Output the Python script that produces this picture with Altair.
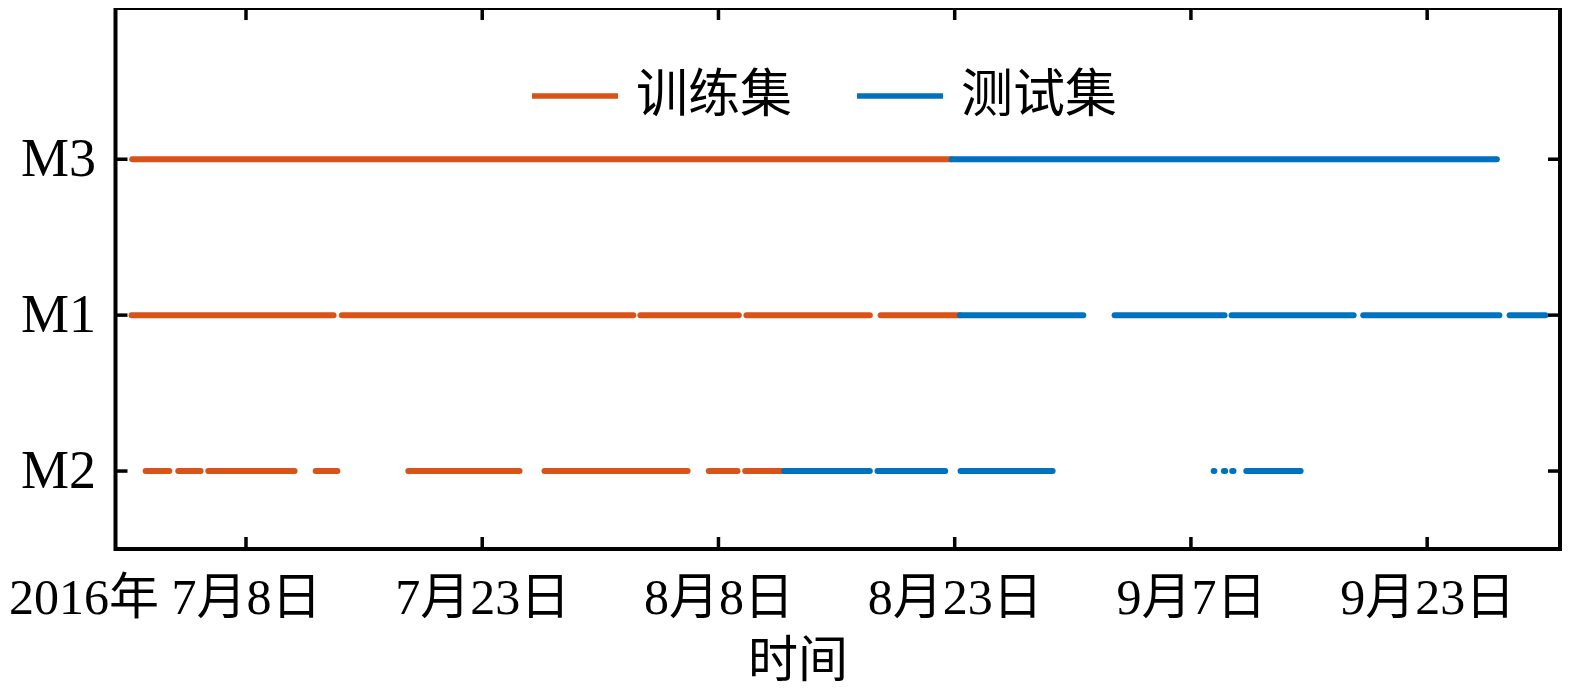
import altair as alt
import pandas as pd

# ---- data ----
tick_times = ["2016-07-08T00:00", "2016-07-23T09:36", "2016-08-07T19:12",
              "2016-08-23T04:48", "2016-09-07T14:24", "2016-09-23T00:00"]
tick_labels = ["2016年 7月8日", "7月23日", "8月8日", "8月23日", "9月7日", "9月23日"]
x_domain = ["2016-06-29T11:50", "2016-10-01T15:50"]

levels = ["M2", "M1", "M3"]          # bottom -> top
set_names = ["训练集", "测试集"]
set_colors = ["#D95319", "#0072BD"]

M3_train = [["2016-06-30T14:00", "2016-08-23T00:00"]]
M3_test = [["2016-08-23T00:00", "2016-09-27T13:00"]]

M1_train = [["2016-06-30T13:00", "2016-07-13T17:00"], ["2016-07-14T06:00", "2016-08-02T06:00"],
            ["2016-08-02T17:00", "2016-08-09T03:00"], ["2016-08-09T15:00", "2016-08-17T16:00"],
            ["2016-08-18T09:00", "2016-08-23T13:00"]]
M1_test = [["2016-08-23T13:00", "2016-08-31T14:00"], ["2016-09-02T15:00", "2016-09-09T19:00"],
           ["2016-09-10T06:00", "2016-09-18T05:00"], ["2016-09-18T20:00", "2016-09-27T17:00"],
           ["2016-09-28T09:00", "2016-09-30T17:00"]]

M2_train = [["2016-07-01T11:00", "2016-07-03T00:00"], ["2016-07-03T14:00", "2016-07-05T01:00"],
            ["2016-07-05T13:00", "2016-07-11T04:00"], ["2016-07-12T13:00", "2016-07-13T23:00"],
            ["2016-07-18T14:00", "2016-07-25T20:00"], ["2016-07-27T11:00", "2016-08-05T19:00"],
            ["2016-08-07T04:00", "2016-08-09T01:00"], ["2016-08-09T13:00", "2016-08-12T02:00"]]
M2_test = [["2016-08-12T02:00", "2016-08-17T16:00"], ["2016-08-18T04:00", "2016-08-22T14:00"],
           ["2016-08-23T14:00", "2016-08-29T14:00"], ["2016-09-09T02:00", "2016-09-09T03:00"],
           ["2016-09-09T18:00", "2016-09-09T20:00"], ["2016-09-10T07:00", "2016-09-10T09:00"],
           ["2016-09-11T05:00", "2016-09-14T18:00"]]

segments = {
    ("M3", "训练集"): M3_train, ("M3", "测试集"): M3_test,
    ("M1", "训练集"): M1_train, ("M1", "测试集"): M1_test,
    ("M2", "训练集"): M2_train, ("M2", "测试集"): M2_test,
}

rows = []
seg_id = 0
for (machine, sname), segs in segments.items():
    for start, end in segs:
        for t in (start, end):
            rows.append({"machine": machine, "level": levels.index(machine) + 1,
                         "set": sname, "seg": seg_id, "t": t})
        seg_id += 1
df = pd.DataFrame(rows)
ticks_df = pd.DataFrame({"t": tick_times})
levels_df = pd.DataFrame({"level": list(range(1, len(levels) + 1))})

W, H = 1444.5, 541
SERIF = "Liberation Serif, Noto Sans CJK SC"
CJK = "Noto Sans CJK SC"


def dt(s):
    p = pd.Timestamp(s)
    return alt.DateTime(year=p.year, month=p.month, date=p.day, hours=p.hour, minutes=p.minute)


xscale = alt.Scale(domain=[dt(s) for s in x_domain])
yscale = alt.Scale(domain=[0.5, 3.97])

fmt = "timeFormat(datum.value, '%Y-%m-%dT%H:%M')"
lab_arr = "[" + ",".join("'%s'" % s for s in tick_labels) + "]"
time_arr = "[" + ",".join("'%s'" % s for s in tick_times) + "]"
label_expr = f"{lab_arr}[indexof({time_arr}, {fmt})]"
first_test = f"{fmt} == '{tick_times[0]}'"

x_axis = alt.Axis(
    values=[dt(s) for s in tick_times], labelExpr=label_expr,
    labelFont=SERIF, labelFontSize=50, labelColor="black", labelPadding=24,
    labelBaseline="top", labelOverlap=False, labelFlush=False, labelLimit=500,
    labelAlign={"condition": {"test": first_test, "value": "right"}, "value": "center"},
    labelOffset={"condition": {"test": first_test, "value": 75}, "value": 0},
    ticks=False, domain=False, grid=False,
    title="时间", titleFont=CJK, titleFontSize=50, titleFontWeight="normal", titleColor="black",
    titleX=682, titleY=87, titleBaseline="top", titleAlign="center",
)
y_label_expr = "[" + ",".join("'%s'" % s for s in levels) + "][datum.value - 1]"
y_axis = alt.Axis(
    values=list(range(1, len(levels) + 1)), labelExpr=y_label_expr,
    labelFont=SERIF, labelFontSize=54, labelColor="black", labelPadding=20,
    ticks=False, domain=False, grid=False, title=None,
)

X = alt.X("t:T", scale=xscale, axis=x_axis)
Y = alt.Y("level:Q", scale=yscale, axis=y_axis)

lines = alt.Chart(df).mark_line(strokeWidth=6, strokeCap="round").encode(
    x=X, y=Y,
    color=alt.Color("set:N", scale=alt.Scale(domain=set_names, range=set_colors),
                    legend=alt.Legend(orient="none", legendX=413.5, legendY=42, direction="horizontal",
                                      title=None, symbolType="stroke", symbolSize=7400,
                                      symbolStrokeWidth=5.5, labelFont=CJK, labelFontSize=52,
                                      labelColor="black", labelOffset=15, columnPadding=52,
                                      padding=0, labelLimit=400)),
    detail="seg:N",
    order="t:T",
)

tick_style = dict(color="black", strokeWidth=3.5)
xt_top = alt.Chart(ticks_df).mark_rule(**tick_style).encode(x=X, y=alt.value(0), y2=alt.value(12))
xt_bot = alt.Chart(ticks_df).mark_rule(**tick_style).encode(x=X, y=alt.value(H - 12), y2=alt.value(H))
yt_left = alt.Chart(levels_df).mark_rule(**tick_style).encode(y=Y, x=alt.value(0), x2=alt.value(12))
yt_right = alt.Chart(levels_df).mark_rule(**tick_style).encode(y=Y, x=alt.value(W - 12), x2=alt.value(W))

chart = alt.layer(lines, xt_top, xt_bot, yt_left, yt_right).properties(
    width=W, height=H,
    autosize=alt.AutoSizeParams(type="none"),
    padding={"left": 107.5, "top": 0, "right": 7, "bottom": 140},
    background="white",
).configure_view(stroke="black", strokeWidth=4)

chart.save("out.html", embed_options={"renderer": "svg", "actions": False})
